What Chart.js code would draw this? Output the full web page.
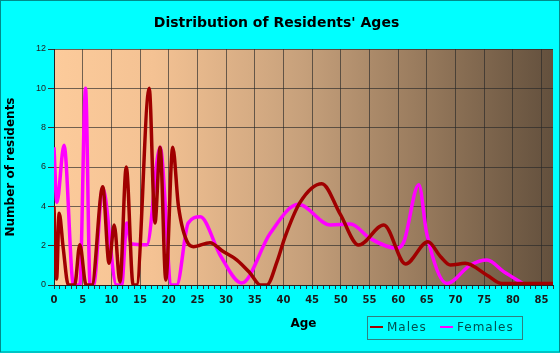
<!DOCTYPE html>
<html>
<head>
<meta charset="utf-8">
<script src="https://cdn.jsdelivr.net/npm/chart.js@4.4.0/dist/chart.umd.min.js"></script>
<style>
  html, body { margin: 0; padding: 0; background: #00ffff; }
  #wrap { width: 560px; height: 353px; }
</style>
</head>
<body>
<div id="wrap"><canvas id="ageChart" width="560" height="353"></canvas></div>
<script>
// ages (x) and number of residents (y)
const maleAges = [0, 0.45, 0.9, 1.6, 2.5, 3.6, 4.5, 5.6, 6.6, 8.5, 9.6, 10.5, 11.5, 12.6, 13.8, 14.4, 16.6, 17.6, 18.5, 19.5, 20.7, 21.7, 23.4, 24.3, 27.2, 29.5, 31.9, 34.2, 36, 37.1, 38.9, 40.3, 42.9, 46.7, 49.9, 53.1, 57.5, 61.3, 65.2, 67.4, 69.1, 71.7, 75.5, 78.1, 87];
const maleCounts = [4.0, 0.3, 3.65, 1.9, 0, 0, 2.05, 0, 0, 5.0, 1.1, 3.05, 0.15, 6.0, 0, 0, 10, 3.15, 7.0, 0.25, 7.0, 4.0, 2.1, 1.95, 2.15, 1.7, 1.27, 0.6, 0, 0, 1.2, 2.46, 4.2, 5.15, 3.6, 2.03, 3.05, 1.07, 2.2, 1.44, 1.02, 1.1, 0.5, 0.08, 0.08];

const femaleAges = [0, 0.5, 1.75, 3.4, 4.5, 5.5, 6.3, 6.9, 8.5, 10.9, 11.8, 12.7, 13.4, 16.2, 18.5, 20.5, 21.4, 23.4, 25.5, 29.0, 32.7, 37.7, 42.6, 48.2, 51.7, 55.1, 59.8, 61, 63.6, 65, 68.5, 72.6, 75.5, 78.4, 81.9];
const femaleCounts = [7.0, 4.2, 7.1, 0, 0, 10, 0, 0, 4.95, 0, 0, 3.15, 2.1, 2.05, 7.0, 0, 0, 3.15, 3.47, 1.5, 0.1, 2.63, 4.1, 3.05, 3.1, 2.37, 1.87, 2.2, 5.1, 2.6, 0.08, 1.02, 1.27, 0.68, 0.05];

const seriesNames = ['Males', 'Females'];
const seriesColors = ['#a00000', '#ff00ff'];

function toPoints(xs, ys) {
  return xs.map((x, i) => ({ x: x, y: ys[i] }));
}

// page background, border and the brown gradient behind the plot
const backgroundPlugin = {
  id: 'pageBackground',
  beforeDraw: (chart) => {
    const ctx = chart.ctx;
    const a = chart.chartArea;
    ctx.save();
    ctx.fillStyle = '#00ffff';
    ctx.fillRect(0, 0, chart.width, chart.height);
    ctx.strokeStyle = '#008b8b';
    ctx.lineWidth = 1;
    ctx.strokeRect(0.5, 0.5, chart.width - 1, chart.height - 1.5);
    ctx.fillRect; 
    const g = ctx.createLinearGradient(a.left, 0, a.right, 0);
    g.addColorStop(0, '#fccb9b');
    g.addColorStop(0.2, '#f4c293');
    g.addColorStop(0.5, '#c6a07b');
    g.addColorStop(0.75, '#95785b');
    g.addColorStop(1, '#63503d');
    ctx.fillStyle = g;
    ctx.fillRect(a.left, a.top, a.right - a.left, a.bottom - a.top);
    ctx.restore();
  }
};

// boxed legend bottom right
const boxLegendPlugin = {
  id: 'boxLegend',
  afterDraw: (chart) => {
    const ctx = chart.ctx;
    ctx.save();
    ctx.strokeStyle = '#2f8080';
    ctx.lineWidth = 1;
    ctx.strokeRect(367.5, 316.5, 155, 23);
    ctx.font = '12px "DejaVu Sans"';
    ctx.letterSpacing = '1px';
    ctx.textBaseline = 'middle';
    ctx.fillStyle = '#005050';
    const swatchX = [370, 440];
    chart.data.datasets.forEach((ds, i) => {
      ctx.strokeStyle = ds.borderColor;
      ctx.lineWidth = 2;
      ctx.beginPath();
      ctx.moveTo(swatchX[i], 327);
      ctx.lineTo(swatchX[i] + 13, 327);
      ctx.stroke();
      ctx.fillText(ds.label, swatchX[i] + 17, 328);
    });
    ctx.restore();
  }
};

const config = {
  type: 'line',
  data: {
    datasets: [
      {
        label: seriesNames[0],
        data: toPoints(maleAges, maleCounts),
        borderColor: seriesColors[0],
        backgroundColor: seriesColors[0],
        borderWidth: 3.5,
        pointRadius: 0,
        cubicInterpolationMode: 'monotone'
      },
      {
        label: seriesNames[1],
        data: toPoints(femaleAges, femaleCounts),
        borderColor: seriesColors[1],
        backgroundColor: seriesColors[1],
        borderWidth: 3.5,
        pointRadius: 0,
        cubicInterpolationMode: 'monotone'
      }
    ]
  },
  options: {
    responsive: false,
    animation: false,
    layout: { padding: { left: 0, right: 7, top: 0, bottom: 0 } },
    scales: {
      x: {
        type: 'linear',
        min: 0,
        max: 87,
        afterFit: (scale) => { scale.height = 68; },
        ticks: {
          stepSize: 1,
          autoSkip: false,
          maxRotation: 0,
          padding: 5,
          color: '#1a1a1a',
          font: { family: '"DejaVu Sans"', size: 10, weight: 'bold' },
          callback: (v) => (v % 5 === 0 ? v : '')
        },
        grid: {
          color: (c) => (c.tick && c.tick.value % 5 === 0 ? 'rgba(40,40,40,0.65)' : 'rgba(0,0,0,0)'),
          tickColor: '#333333',
          tickLength: 4
        },
        border: { color: '#222222', width: 1 },
        title: {
          display: true,
          text: 'Age',
          color: '#000000',
          font: { family: '"DejaVu Sans"', size: 12, weight: 'bold' },
          padding: { top: 0, bottom: 22 }
        }
      },
      y: {
        min: 0,
        max: 12,
        afterFit: (scale) => { scale.width = 54; },
        ticks: {
          stepSize: 2,
          padding: 2,
          color: '#222222',
          font: { family: '"Liberation Sans"', size: 9 }
        },
        grid: {
          color: 'rgba(40,40,40,0.65)',
          tickColor: '#333333',
          tickLength: 6
        },
        border: { color: '#222222', width: 1 },
        title: {
          display: true,
          text: 'Number of residents',
          color: '#000000',
          font: { family: '"DejaVu Sans"', size: 12, weight: 'bold' },
          padding: { top: 4, bottom: 0 }
        }
      }
    },
    plugins: {
      legend: { display: false },
      tooltip: { enabled: false },
      title: {
        display: true,
        text: "Distribution of Residents' Ages",
        color: '#000000',
        font: { family: '"DejaVu Sans"', size: 14, weight: 'bold', lineHeight: 1.2 },
        padding: { top: 15, bottom: 17.2 }
      }
    }
  },
  plugins: [backgroundPlugin, boxLegendPlugin]
};

const ageChart = new Chart(document.getElementById('ageChart'), config);
</script>
</body>
</html>
